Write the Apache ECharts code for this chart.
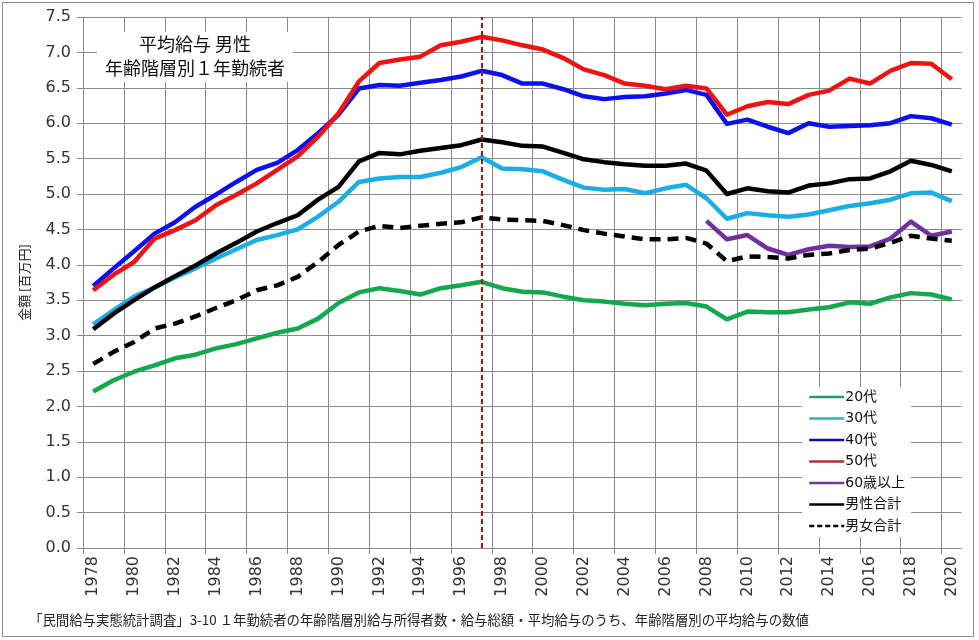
<!DOCTYPE html>
<html><head><meta charset="utf-8">
<script src="https://cdn.jsdelivr.net/npm/echarts@6/dist/echarts.min.js"></script>
<style>html,body{margin:0;padding:0;background:#fff}#c{width:979px;height:640px}</style>
</head><body><div id="c"></div>
<script>
var years = ['1978','1979','1980','1981','1982','1983','1984','1985','1986','1987','1988','1989','1990','1991','1992','1993','1994','1995','1996','1997','1998','1999','2000','2001','2002','2003','2004','2005','2006','2007','2008','2009','2010','2011','2012','2013','2014','2015','2016','2017','2018','2019','2020'];
var age20 = [2.21,2.37,2.49,2.58,2.68,2.73,2.82,2.88,2.96,3.04,3.10,3.24,3.46,3.61,3.67,3.63,3.58,3.67,3.71,3.76,3.67,3.62,3.61,3.55,3.50,3.48,3.45,3.43,3.45,3.46,3.41,3.23,3.34,3.33,3.33,3.37,3.40,3.47,3.45,3.54,3.60,3.58,3.51];
var age30 = [3.16,3.36,3.55,3.68,3.82,3.95,4.09,4.22,4.35,4.42,4.50,4.68,4.89,5.17,5.22,5.24,5.24,5.30,5.38,5.52,5.36,5.35,5.32,5.20,5.09,5.06,5.07,5.01,5.08,5.13,4.94,4.65,4.73,4.70,4.68,4.71,4.77,4.83,4.87,4.92,5.01,5.02,4.90];
var age40 = [3.70,3.95,4.19,4.44,4.60,4.82,4.99,5.17,5.34,5.44,5.62,5.86,6.12,6.49,6.54,6.53,6.57,6.61,6.66,6.74,6.68,6.56,6.56,6.48,6.38,6.34,6.37,6.38,6.42,6.47,6.40,5.99,6.05,5.95,5.86,6.00,5.95,5.96,5.97,6.00,6.10,6.07,5.98];
var age50 = [3.64,3.86,4.04,4.37,4.49,4.63,4.84,4.99,5.15,5.34,5.53,5.81,6.14,6.59,6.85,6.90,6.94,7.10,7.15,7.22,7.17,7.10,7.04,6.92,6.76,6.68,6.56,6.53,6.48,6.53,6.49,6.12,6.24,6.30,6.27,6.40,6.46,6.63,6.56,6.74,6.85,6.84,6.62];
var age60 = [null,null,null,null,null,null,null,null,null,null,null,null,null,null,null,null,null,null,null,null,null,null,null,null,null,null,null,null,null,null,4.62,4.36,4.42,4.23,4.14,4.22,4.27,4.25,4.26,4.37,4.61,4.41,4.47];
var maleTotal = [3.09,3.31,3.50,3.68,3.84,3.99,4.16,4.31,4.47,4.59,4.70,4.92,5.10,5.46,5.58,5.56,5.61,5.65,5.69,5.77,5.73,5.68,5.67,5.58,5.49,5.45,5.42,5.40,5.40,5.43,5.33,5.00,5.08,5.04,5.02,5.12,5.15,5.21,5.22,5.32,5.47,5.41,5.32];
var allTotal = [2.60,2.77,2.91,3.10,3.17,3.27,3.39,3.50,3.64,3.71,3.83,4.04,4.28,4.47,4.55,4.52,4.55,4.58,4.60,4.67,4.64,4.63,4.62,4.56,4.49,4.44,4.40,4.36,4.36,4.38,4.30,4.05,4.12,4.11,4.09,4.14,4.16,4.21,4.23,4.31,4.41,4.37,4.34];
var markYear = '1997';
var seriesNames = ['20代','30代','40代','50代','60歳以上','男性合計','男女合計'];
var titleLines = ['平均給与 男性','年齢階層別１年勤続者'];
var yName = '金額 [百万円]';
var footer = '「民間給与実態統計調査」3-10 １年勤続者の年齢階層別給与所得者数・給与総額・平均給与のうち、年齢階層別の平均給与の数値';

var NUM = "'DejaVu Sans','Noto Sans CJK JP',sans-serif";
var CJK = "'Noto Sans CJK JP',sans-serif";
var colors = ['#12a84e','#1aade6','#0c10ee','#f01212','#7030a0','#000000','#000000'];
var legendColors = ['#2a9a6a','#3aaec0','#10109a','#b03030','#6a3d9a','#000000','#000000'];
var dataSets = [age20, age30, age40, age50, age60, maleTotal, allTotal];

var series = dataSets.map(function(d, i){
  return {
    name: seriesNames[i], type: 'line', data: d, symbol: 'none', smooth: false,
    connectNulls: false,
    lineStyle: {width: 4.5, color: colors[i], type: i === 6 ? [11, 7] : 'solid', cap: 'butt', join: 'round'},
    itemStyle: {color: colors[i]},
    emphasis: {disabled: true}, z: 3
  };
});
series[0].markLine = {
  silent: true, symbol: ['none','none'], label: {show: false},
  lineStyle: {color: '#b01010', width: 2, type: [5,3]},
  data: [{xAxis: markYear}], animation: false
};

var legendData = seriesNames.map(function(n, i){
  return {name: n, itemStyle: {opacity: 0}, lineStyle: {color: legendColors[i], width: 2.5, type: i === 6 ? [5, 3] : 'solid'}};
});

var chart = echarts.init(document.getElementById('c'), null, {renderer: 'canvas'});
chart.setOption({
  animation: false,
  backgroundColor: '#fff',
  color: colors,
  grid: {left: 83, right: 17, top: 17, bottom: 92, containLabel: false},
  xAxis: {
    type: 'category', data: years, boundaryGap: true,
    axisLine: {show: true, lineStyle: {color: '#8a8a8a', width: 1}},
    axisTick: {show: true, interval: 1, length: 6, lineStyle: {color: '#8a8a8a'}},
    axisLabel: {interval: 1, rotate: 90, fontSize: 16, fontFamily: NUM, color: '#333', margin: 8},
    splitLine: {show: true, interval: 1, lineStyle: {color: '#8a8a8a', width: 1}}
  },
  yAxis: {
    type: 'value', min: 0, max: 7.5, interval: 0.5,
    name: yName, nameLocation: 'middle', nameGap: 52, nameRotate: 90,
    nameTextStyle: {fontSize: 13, fontFamily: CJK, color: '#222'},
    axisLine: {show: true, lineStyle: {color: '#8a8a8a', width: 1}},
    axisTick: {show: true, length: 6, lineStyle: {color: '#8a8a8a'}},
    axisLabel: {fontSize: 16, fontFamily: NUM, color: '#333', margin: 12,
      formatter: function(v){ return v.toFixed(1); }},
    splitLine: {show: true, lineStyle: {color: '#8a8a8a', width: 1}}
  },
  legend: {
    orient: 'vertical', left: 802, top: 387,
    data: legendData,
    backgroundColor: '#fff', padding: [3, 6, 4, 6],
    itemWidth: 35, itemHeight: 14, itemGap: 7.5,
    itemStyle: {opacity: 0},
    textStyle: {fontSize: 14, fontFamily: NUM, color: '#111', padding: [0,0,0,-4]},
    selectedMode: false
  },
  graphic: [
    {type: 'line', silent: true, z: 50, shape: {x1: 962.5, y1: 15, x2: 962.5, y2: 560}, style: {stroke: '#fff', lineWidth: 2}},
    {type: 'rect', silent: true, z: 100, shape: {x: 97, y: 32, width: 196, height: 50}, style: {fill: '#fff'}},
    {type: 'text', silent: true, z: 101, style: {x: 195, y: 44, text: titleLines[0], font: "18px 'Noto Sans CJK JP'", fill: '#111', textAlign: 'center', textVerticalAlign: 'middle'}},
    {type: 'text', silent: true, z: 101, style: {x: 195, y: 68, text: titleLines[1], font: "18px 'Noto Sans CJK JP'", fill: '#111', textAlign: 'center', textVerticalAlign: 'middle'}},
    {type: 'text', silent: true, z: 101, style: {x: 29, y: 620, text: footer, font: "13.4px 'Noto Sans CJK JP'", fill: '#222', textAlign: 'left', textVerticalAlign: 'middle'}},
    {type: 'rect', silent: true, z: 101, shape: {x: 2.5, y: 2.5, width: 971, height: 634}, style: {fill: 'none', stroke: '#8a8a8a', lineWidth: 1}}
  ],
  series: series
});
</script></body></html>
